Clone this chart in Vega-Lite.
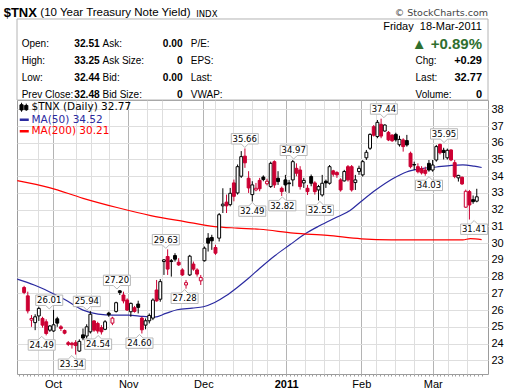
{
"$schema": "https://vega.github.io/schema/vega-lite/v6.json",
"background": "white",
"autosize": {"type": "none"},
"padding": {"left": 17, "top": 100, "right": 32, "bottom": 17},
"width": 471, "height": 274,
"config": {"view": {"stroke": "#9c9c9c"}, "font": "Liberation Sans"},
"resolve": {"scale": {"x": "independent", "y": "independent"}},
"datasets": {
"panel": [{"part": "quote box"}],
"info": [
{"r":"d","g":"g6","t":"Friday\u00a0 18-Mar-2011","k":"date"},
{"r":"d","g":"g1","t":"$TNX","k":"t1"},
{"r":"d","g":"g1","t":"(10 Year Treasury Note Yield)","k":"t2"},
{"r":"d","g":"g3","t":"INDX","k":"t3"},
{"r":"d","g":"g6","t":"© StockCharts.com","k":"t4"},
{"r":"1","g":"g1","t":"Open:","k":"lab"},{"r":"1","g":"g1","t":"32.51","k":"val"},
{"r":"1","g":"g2","t":"Ask:","k":"lab2"},{"r":"1","g":"g2","t":"0.00","k":"val2"},
{"r":"1","g":"g3","t":"P/E:","k":"lab3"},
{"r":"1","g":"g6","t":"▲ +0.89%","k":"big"},
{"r":"2","g":"g1","t":"High:","k":"lab"},{"r":"2","g":"g1","t":"33.25","k":"val"},
{"r":"2","g":"g2","t":"Ask Size:","k":"lab2"},{"r":"2","g":"g2","t":"0","k":"val2"},
{"r":"2","g":"g3","t":"EPS:","k":"lab3"},
{"r":"2","g":"g6","t":"Chg:","k":"lab"},{"r":"2","g":"g6","t":"+0.29","k":"rval"},
{"r":"3","g":"g1","t":"Low:","k":"lab"},{"r":"3","g":"g1","t":"32.44","k":"val"},
{"r":"3","g":"g2","t":"Bid:","k":"lab2"},{"r":"3","g":"g2","t":"0.00","k":"val2"},
{"r":"3","g":"g3","t":"Last:","k":"lab3"},
{"r":"3","g":"g6","t":"Last:","k":"lab"},{"r":"3","g":"g6","t":"32.77","k":"rval"},
{"r":"4","g":"g1","t":"Prev Close:","k":"lab"},{"r":"4","g":"g1","t":"32.48","k":"val"},
{"r":"4","g":"g2","t":"Bid Size:","k":"lab2"},{"r":"4","g":"g2","t":"0","k":"val2"},
{"r":"4","g":"g3","t":"VWAP:","k":"lab3"},
{"r":"4","g":"g6","t":"Volume:","k":"lab"},{"r":"4","g":"g6","t":"0","k":"rval"}
],
"candles": [
{"i":0,"o":27.35,"h":27.45,"l":26.95,"c":27.05},
{"i":1,"o":26.85,"h":27.1,"l":25.8,"c":25.95},
{"i":2,"o":25.4,"h":25.7,"l":25.0,"c":25.5},
{"i":3,"o":25.25,"h":25.75,"l":24.8,"c":25.6},
{"i":4,"o":25.65,"h":26.2,"l":25.35,"c":26.1},
{"i":5,"o":25.5,"h":25.6,"l":24.95,"c":25.1},
{"i":6,"o":25.3,"h":25.45,"l":24.49,"c":24.6},
{"i":7,"o":24.8,"h":25.1,"l":24.7,"c":25.05},
{"i":8,"o":24.75,"h":26.01,"l":24.7,"c":25.12},
{"i":9,"o":25.48,"h":25.6,"l":25.0,"c":25.22},
{"i":10,"o":25.0,"h":25.1,"l":24.75,"c":24.9},
{"i":11,"o":24.78,"h":24.84,"l":24.55,"c":24.62},
{"i":12,"o":24.05,"h":24.15,"l":23.85,"c":23.95},
{"i":13,"o":24.02,"h":24.1,"l":23.7,"c":23.93},
{"i":14,"o":24.05,"h":24.2,"l":23.34,"c":23.88},
{"i":15,"o":23.55,"h":24.25,"l":23.5,"c":24.13},
{"i":16,"o":24.52,"h":24.9,"l":24.2,"c":24.33},
{"i":17,"o":24.45,"h":25.15,"l":24.3,"c":25.0},
{"i":18,"o":24.7,"h":25.94,"l":24.6,"c":25.75},
{"i":19,"o":25.35,"h":25.4,"l":24.7,"c":24.8},
{"i":20,"o":25.2,"h":25.3,"l":24.6,"c":24.75},
{"i":21,"o":24.95,"h":25.1,"l":24.54,"c":24.7},
{"i":22,"o":24.85,"h":25.4,"l":24.8,"c":25.3},
{"i":23,"o":25.82,"h":25.9,"l":25.6,"c":25.72},
{"i":24,"o":25.22,"h":25.6,"l":25.1,"c":25.52},
{"i":25,"o":25.92,"h":26.5,"l":25.85,"c":26.44},
{"i":26,"o":27.15,"h":27.2,"l":26.9,"c":27.05},
{"i":27,"o":26.9,"h":27.1,"l":26.4,"c":26.55},
{"i":28,"o":26.6,"h":26.7,"l":25.95,"c":26.0},
{"i":29,"o":25.9,"h":26.45,"l":25.6,"c":26.4},
{"i":30,"o":26.14,"h":26.25,"l":25.85,"c":25.92},
{"i":31,"o":26.36,"h":26.56,"l":25.8,"c":26.16},
{"i":32,"o":25.52,"h":25.6,"l":24.6,"c":24.82},
{"i":33,"o":25.1,"h":25.5,"l":24.85,"c":25.36},
{"i":34,"o":25.36,"h":25.8,"l":25.2,"c":25.68},
{"i":35,"o":25.52,"h":26.7,"l":25.4,"c":26.6},
{"i":36,"o":27.2,"h":27.8,"l":26.5,"c":26.55},
{"i":37,"o":26.65,"h":27.85,"l":26.5,"c":27.7},
{"i":38,"o":28.9,"h":29.05,"l":28.1,"c":29.0},
{"i":39,"o":29.2,"h":29.63,"l":28.1,"c":28.45},
{"i":40,"o":28.95,"h":29.05,"l":28.0,"c":28.9},
{"i":41,"o":29.26,"h":29.4,"l":28.9,"c":29.04},
{"i":42,"o":28.86,"h":29.1,"l":28.64,"c":28.7},
{"i":43,"o":28.4,"h":28.5,"l":28.04,"c":28.1},
{"i":44,"o":27.5,"h":27.8,"l":27.28,"c":27.64},
{"i":45,"o":28.1,"h":29.3,"l":28.04,"c":29.22},
{"i":46,"o":28.75,"h":28.9,"l":28.35,"c":28.45},
{"i":47,"o":28.4,"h":28.5,"l":28.0,"c":28.15},
{"i":48,"o":27.75,"h":28.1,"l":27.5,"c":27.95},
{"i":49,"o":28.95,"h":29.8,"l":28.9,"c":29.7},
{"i":50,"o":30.3,"h":30.6,"l":29.5,"c":30.0},
{"i":51,"o":30.34,"h":30.5,"l":29.6,"c":30.14},
{"i":52,"o":29.74,"h":29.9,"l":29.3,"c":29.4},
{"i":53,"o":30.3,"h":31.8,"l":30.1,"c":31.7},
{"i":54,"o":32.23,"h":33.28,"l":31.8,"c":32.33},
{"i":55,"o":32.45,"h":32.9,"l":31.8,"c":32.23},
{"i":56,"o":32.3,"h":33.3,"l":32.2,"c":32.98},
{"i":57,"o":33.6,"h":33.8,"l":32.5,"c":32.8},
{"i":58,"o":33.0,"h":34.7,"l":32.9,"c":34.57},
{"i":59,"o":34.0,"h":35.5,"l":33.9,"c":35.17},
{"i":60,"o":35.2,"h":35.66,"l":34.5,"c":34.8},
{"i":61,"o":33.88,"h":34.3,"l":33.0,"c":33.3},
{"i":62,"o":32.9,"h":33.7,"l":32.49,"c":33.48},
{"i":63,"o":33.18,"h":33.6,"l":33.1,"c":33.28},
{"i":64,"o":33.75,"h":33.9,"l":33.1,"c":33.25},
{"i":65,"o":33.95,"h":34.05,"l":33.7,"c":33.8},
{"i":66,"o":33.55,"h":33.85,"l":33.45,"c":33.7},
{"i":67,"o":33.38,"h":34.87,"l":33.3,"c":34.77},
{"i":68,"o":34.87,"h":34.95,"l":33.3,"c":33.48},
{"i":69,"o":33.88,"h":34.3,"l":33.48,"c":33.68},
{"i":70,"o":33.28,"h":33.38,"l":32.82,"c":33.08},
{"i":71,"o":33.78,"h":34.08,"l":33.08,"c":33.48},
{"i":72,"o":33.6,"h":33.78,"l":33.0,"c":33.55},
{"i":73,"o":33.78,"h":34.97,"l":33.4,"c":34.87},
{"i":74,"o":34.47,"h":34.77,"l":34.0,"c":34.18},
{"i":75,"o":34.37,"h":34.6,"l":33.2,"c":33.38},
{"i":76,"o":33.6,"h":33.9,"l":33.3,"c":33.75},
{"i":77,"o":33.28,"h":33.48,"l":32.88,"c":33.08},
{"i":78,"o":33.98,"h":34.1,"l":33.4,"c":33.58},
{"i":79,"o":33.6,"h":33.7,"l":32.9,"c":33.08},
{"i":80,"o":33.18,"h":33.48,"l":32.55,"c":33.38},
{"i":81,"o":32.88,"h":34.08,"l":32.78,"c":33.58},
{"i":82,"o":33.7,"h":33.8,"l":33.3,"c":33.6},
{"i":83,"o":33.58,"h":34.67,"l":33.5,"c":34.57},
{"i":84,"o":34.32,"h":34.38,"l":33.98,"c":34.12},
{"i":85,"o":34.22,"h":34.3,"l":33.9,"c":34.08},
{"i":86,"o":33.78,"h":33.88,"l":33.08,"c":33.18},
{"i":87,"o":33.72,"h":34.38,"l":33.68,"c":34.28},
{"i":88,"o":34.57,"h":34.67,"l":33.68,"c":33.78},
{"i":89,"o":34.57,"h":34.67,"l":33.08,"c":33.18},
{"i":90,"o":33.62,"h":34.08,"l":33.18,"c":33.78},
{"i":91,"o":34.28,"h":34.63,"l":34.08,"c":34.47},
{"i":92,"o":34.08,"h":34.97,"l":33.98,"c":34.87},
{"i":93,"o":35.1,"h":35.57,"l":34.97,"c":35.43},
{"i":94,"o":35.67,"h":36.56,"l":35.57,"c":36.5},
{"i":95,"o":36.96,"h":37.06,"l":36.37,"c":36.45},
{"i":96,"o":36.37,"h":37.36,"l":36.27,"c":37.22},
{"i":97,"o":37.1,"h":37.44,"l":36.27,"c":36.4},
{"i":98,"o":36.7,"h":37.1,"l":36.66,"c":37.06},
{"i":99,"o":36.62,"h":36.7,"l":36.1,"c":36.17},
{"i":100,"o":36.46,"h":36.5,"l":36.05,"c":36.12},
{"i":101,"o":36.5,"h":36.6,"l":36.07,"c":36.18},
{"i":102,"o":35.88,"h":36.42,"l":35.77,"c":36.2},
{"i":103,"o":36.17,"h":36.27,"l":35.47,"c":35.77},
{"i":104,"o":36.13,"h":36.47,"l":35.77,"c":35.87},
{"i":105,"o":35.37,"h":35.47,"l":34.47,"c":34.57},
{"i":106,"o":34.7,"h":34.87,"l":34.37,"c":34.67},
{"i":107,"o":34.57,"h":34.77,"l":34.17,"c":34.27},
{"i":108,"o":34.45,"h":34.6,"l":34.1,"c":34.2},
{"i":109,"o":34.37,"h":34.57,"l":34.03,"c":34.17},
{"i":110,"o":34.77,"h":34.97,"l":34.27,"c":34.37},
{"i":111,"o":34.37,"h":34.97,"l":34.27,"c":34.67},
{"i":112,"o":34.97,"h":35.87,"l":34.87,"c":35.77},
{"i":113,"o":35.9,"h":35.95,"l":35.3,"c":35.4},
{"i":114,"o":35.55,"h":35.7,"l":35.0,"c":35.42},
{"i":115,"o":35.1,"h":35.65,"l":35.0,"c":35.55},
{"i":116,"o":35.57,"h":35.6,"l":34.9,"c":34.97},
{"i":117,"o":34.81,"h":34.97,"l":33.88,"c":33.98},
{"i":118,"o":33.9,"h":34.08,"l":33.68,"c":34.05},
{"i":119,"o":33.94,"h":33.98,"l":33.48,"c":33.54},
{"i":120,"o":32.15,"h":33.2,"l":32.1,"c":33.1},
{"i":121,"o":33.08,"h":33.18,"l":31.41,"c":32.28},
{"i":122,"o":32.6,"h":32.85,"l":32.35,"c":32.48},
{"i":123,"o":32.51,"h":33.25,"l":32.44,"c":32.77}
],
"ma": [
{"s":"MA(50) 34.52","i":-0.5,"v":27.85},{"s":"MA(50) 34.52","i":4,"v":27.5},{"s":"MA(50) 34.52","i":8,"v":27.1},{"s":"MA(50) 34.52","i":12,"v":26.65},{"s":"MA(50) 34.52","i":17,"v":26.0},{"s":"MA(50) 34.52","i":21,"v":25.76},{"s":"MA(50) 34.52","i":25,"v":25.7},{"s":"MA(50) 34.52","i":29,"v":25.7},{"s":"MA(50) 34.52","i":33,"v":25.62},{"s":"MA(50) 34.52","i":36,"v":25.58},{"s":"MA(50) 34.52","i":39,"v":25.8},{"s":"MA(50) 34.52","i":42,"v":26.02},{"s":"MA(50) 34.52","i":46,"v":26.12},{"s":"MA(50) 34.52","i":49,"v":26.2},{"s":"MA(50) 34.52","i":52,"v":26.45},{"s":"MA(50) 34.52","i":55,"v":26.85},{"s":"MA(50) 34.52","i":58,"v":27.35},{"s":"MA(50) 34.52","i":61,"v":27.9},{"s":"MA(50) 34.52","i":64,"v":28.5},{"s":"MA(50) 34.52","i":68,"v":29.25},{"s":"MA(50) 34.52","i":72,"v":29.9},{"s":"MA(50) 34.52","i":76,"v":30.55},{"s":"MA(50) 34.52","i":80,"v":31.05},{"s":"MA(50) 34.52","i":84,"v":31.5},{"s":"MA(50) 34.52","i":88,"v":31.95},{"s":"MA(50) 34.52","i":91,"v":32.5},{"s":"MA(50) 34.52","i":95,"v":33.2},{"s":"MA(50) 34.52","i":99,"v":33.8},{"s":"MA(50) 34.52","i":103,"v":34.25},{"s":"MA(50) 34.52","i":107,"v":34.45},{"s":"MA(50) 34.52","i":111,"v":34.55},{"s":"MA(50) 34.52","i":115,"v":34.65},{"s":"MA(50) 34.52","i":118,"v":34.68},{"s":"MA(50) 34.52","i":121,"v":34.6},{"s":"MA(50) 34.52","i":123,"v":34.52},
{"s":"MA(200) 30.21","i":-0.5,"v":33.74},{"s":"MA(200) 30.21","i":8,"v":33.32},{"s":"MA(200) 30.21","i":17,"v":32.68},{"s":"MA(200) 30.21","i":26,"v":32.13},{"s":"MA(200) 30.21","i":35,"v":31.65},{"s":"MA(200) 30.21","i":44,"v":31.29},{"s":"MA(200) 30.21","i":52,"v":30.99},{"s":"MA(200) 30.21","i":58,"v":30.9},{"s":"MA(200) 30.21","i":64,"v":30.83},{"s":"MA(200) 30.21","i":73,"v":30.6},{"s":"MA(200) 30.21","i":82,"v":30.46},{"s":"MA(200) 30.21","i":91,"v":30.26},{"s":"MA(200) 30.21","i":99,"v":30.2},{"s":"MA(200) 30.21","i":108,"v":30.2},{"s":"MA(200) 30.21","i":118,"v":30.2},{"s":"MA(200) 30.21","i":120,"v":30.27},{"s":"MA(200) 30.21","i":123,"v":30.21}
],
"notes": [
{"i":8,"v":26.01,"p":"top"},{"i":18,"v":25.94,"p":"top"},{"i":26,"v":27.20,"p":"top"},{"i":39,"v":29.63,"p":"top"},{"i":60,"v":35.66,"p":"top"},{"i":73,"v":34.97,"p":"top"},{"i":97,"v":37.44,"p":"top"},{"i":113,"v":35.95,"p":"top"},
{"i":6,"v":24.49,"p":"bottom"},{"i":14,"v":23.34,"p":"bottom"},{"i":21,"v":24.54,"p":"bottom"},{"i":32,"v":24.60,"p":"bottom"},{"i":44,"v":27.28,"p":"bottom"},{"i":62,"v":32.49,"p":"bottom"},{"i":70,"v":32.82,"p":"bottom"},{"i":80,"v":32.55,"p":"bottom"},{"i":109,"v":34.03,"p":"bottom"},{"i":121,"v":31.41,"p":"bottom"}
]
},
"layer": [
{
 "data": {"name": "panel"},
 "mark": {"type": "rect", "fill": "transparent", "stroke": "#b4b4b4", "strokeWidth": 1},
 "encoding": {
  "x": {"datum": -0.574, "type": "quantitative", "scale": {"domain": [-0.574, 124.69], "nice": false, "zero": false}, "axis": null},
  "x2": {"datum": 124.69},
  "y": {"datum": 38.555, "type": "quantitative", "scale": {"domain": [22.18, 38.555], "nice": false, "zero": false}, "axis": null},
  "y2": {"datum": 43.396}
 }
},
{
"data": {"name": "info"},
"encoding": {
 "y": {"field": "r", "type": "nominal", "scale": {"type": "point", "domain": ["d","1","2","3","4"], "range": [-72.7, -5], "padding": 0}, "axis": null},
 "text": {"field": "t"}
},
"layer": [
{"transform": [{"filter": "datum.k == 'lab'"}], "mark": {"type": "text", "align": "left", "baseline": "middle", "font": "Liberation Sans", "fontSize": 10, "color": "#000"},
 "encoding": {"x": {"field": "g", "type": "nominal", "bandPosition": 0, "scale": {"type": "band", "domain": ["g1","g2","g3","g4","g5","g6"], "range": [4.7, 476.6], "paddingInner": 0.0085, "paddingOuter": 0}, "axis": null}}},
{"transform": [{"filter": "datum.k == 'lab2'"}], "mark": {"type": "text", "align": "left", "baseline": "middle", "font": "Liberation Sans", "fontSize": 10, "color": "#000", "dx": 2},
 "encoding": {"x": {"field": "g", "type": "nominal", "bandPosition": 0, "scale": {"type": "band", "domain": ["g1","g2","g3","g4","g5","g6"], "range": [4.7, 476.6], "paddingInner": 0.0085, "paddingOuter": 0}, "axis": null}}},
{"transform": [{"filter": "datum.k == 'lab3'"}], "mark": {"type": "text", "align": "left", "baseline": "middle", "font": "Liberation Sans", "fontSize": 10, "color": "#000", "dx": 11.5},
 "encoding": {"x": {"field": "g", "type": "nominal", "bandPosition": 0, "scale": {"type": "band", "domain": ["g1","g2","g3","g4","g5","g6"], "range": [4.7, 476.6], "paddingInner": 0.0085, "paddingOuter": 0}, "axis": null}}},
{"transform": [{"filter": "datum.k == 'val'"}], "mark": {"type": "text", "align": "right", "baseline": "middle", "font": "Liberation Sans", "fontSize": 10.2, "fontWeight": "bold", "color": "#000"},
 "encoding": {"x": {"field": "g", "type": "nominal", "bandPosition": 1, "scale": {"type": "band", "domain": ["g1","g2","g3","g4","g5","g6"], "range": [4.7, 476.6], "paddingInner": 0.0085, "paddingOuter": 0}, "axis": null}}},
{"transform": [{"filter": "datum.k == 'val2'"}], "mark": {"type": "text", "align": "right", "baseline": "middle", "font": "Liberation Sans", "fontSize": 10.2, "fontWeight": "bold", "color": "#000", "dx": 4},
 "encoding": {"x": {"field": "g", "type": "nominal", "bandPosition": 1, "scale": {"type": "band", "domain": ["g1","g2","g3","g4","g5","g6"], "range": [4.7, 476.6], "paddingInner": 0.0085, "paddingOuter": 0}, "axis": null}}},
{"transform": [{"filter": "datum.k == 'rval'"}], "mark": {"type": "text", "align": "right", "baseline": "middle", "font": "Liberation Sans", "fontSize": 11, "fontWeight": "bold", "color": "#000", "dx": -11.6},
 "encoding": {"x": {"field": "g", "type": "nominal", "bandPosition": 1, "scale": {"type": "band", "domain": ["g1","g2","g3","g4","g5","g6"], "range": [4.7, 476.6], "paddingInner": 0.0085, "paddingOuter": 0}, "axis": null}}},
{"transform": [{"filter": "datum.k == 'big'"}], "mark": {"type": "text", "align": "right", "baseline": "middle", "font": "Liberation Sans", "fontSize": 15, "fontWeight": "bold", "color": "#2f6f2f", "dx": -11.6},
 "encoding": {"x": {"field": "g", "type": "nominal", "bandPosition": 1, "scale": {"type": "band", "domain": ["g1","g2","g3","g4","g5","g6"], "range": [4.7, 476.6], "paddingInner": 0.0085, "paddingOuter": 0}, "axis": null}}},
{"transform": [{"filter": "datum.k == 'date'"}], "mark": {"type": "text", "align": "right", "baseline": "middle", "font": "Liberation Sans", "fontSize": 11, "color": "#000", "dx": -11.6},
 "encoding": {"x": {"field": "g", "type": "nominal", "bandPosition": 1, "scale": {"type": "band", "domain": ["g1","g2","g3","g4","g5","g6"], "range": [4.7, 476.6], "paddingInner": 0.0085, "paddingOuter": 0}, "axis": null}}},
{"transform": [{"filter": "datum.k == 't1'"}], "mark": {"type": "text", "align": "left", "baseline": "middle", "font": "Liberation Sans", "fontSize": 13, "fontWeight": "bold", "color": "#000", "dx": -18, "dy": -14.6},
 "encoding": {"x": {"field": "g", "type": "nominal", "bandPosition": 0, "scale": {"type": "band", "domain": ["g1","g2","g3","g4","g5","g6"], "range": [4.7, 476.6], "paddingInner": 0.0085, "paddingOuter": 0}, "axis": null}}},
{"transform": [{"filter": "datum.k == 't2'"}], "mark": {"type": "text", "align": "left", "baseline": "middle", "font": "Liberation Sans", "fontSize": 11.5, "color": "#000", "dx": 18.6, "dy": -14.2},
 "encoding": {"x": {"field": "g", "type": "nominal", "bandPosition": 0, "scale": {"type": "band", "domain": ["g1","g2","g3","g4","g5","g6"], "range": [4.7, 476.6], "paddingInner": 0.0085, "paddingOuter": 0}, "axis": null}}},
{"transform": [{"filter": "datum.k == 't3'"}], "mark": {"type": "text", "align": "left", "baseline": "middle", "font": "DejaVu Sans", "fontSize": 8.5, "color": "#000", "dx": 17, "dy": -13.8},
 "encoding": {"x": {"field": "g", "type": "nominal", "bandPosition": 0, "scale": {"type": "band", "domain": ["g1","g2","g3","g4","g5","g6"], "range": [4.7, 476.6], "paddingInner": 0.0085, "paddingOuter": 0}, "axis": null}}},
{"transform": [{"filter": "datum.k == 't4'"}], "mark": {"type": "text", "align": "right", "baseline": "middle", "font": "DejaVu Sans", "fontSize": 9.5, "color": "#444", "dx": -5.6, "dy": -14.6},
 "encoding": {"x": {"field": "g", "type": "nominal", "bandPosition": 1, "scale": {"type": "band", "domain": ["g1","g2","g3","g4","g5","g6"], "range": [4.7, 476.6], "paddingInner": 0.0085, "paddingOuter": 0}, "axis": null}}}
]
},
{
 "data": {"name": "ma"},
 "mark": {"type": "line", "strokeWidth": 1.2, "interpolate": "monotone", "clip": true},
 "encoding": {
  "x": {"field": "i", "type": "quantitative", "scale": {"domain": [-0.574, 124.69], "nice": false, "zero": false},
   "axis": {"orient": "bottom", "title": null, "domain": false,
    "values": [0,1,2,3,4,5,6,7,8,9,10,11,12,13,14,15,16,17,18,19,20,21,22,23,24,25,26,27,28,29,30,31,32,33,34,35,36,37,38,39,40,41,42,43,44,45,46,47,48,49,50,51,52,53,54,55,56,57,58,59,60,61,62,63,64,65,66,67,68,69,70,71,72,73,74,75,76,77,78,79,80,81,82,83,84,85,86,87,88,89,90,91,92,93,94,95,96,97,98,99,100,101,102,103,104,105,106,107,108,109,110,111,112,113,114,115,116,117,118,119,120,121,122,123],
    "grid": true,
    "gridColor": {"condition": {"test": "indexof([9,29,49,71,91,110], datum.value) >= 0", "value": "#b4b4b4"}, "value": "#dedede"},
    "gridOpacity": {"condition": {"test": "indexof([5,9,15,19,24,29,34,38,43,49,52,57,62,66,71,76,81,85,91,95,100,105,110,114,119], datum.value) >= 0", "value": 1}, "value": 0},
    "ticks": true, "tickSize": 2, "tickColor": "#a0a0a0",
    "labelExpr": "datum.value == 9 ? 'Oct' : datum.value == 29 ? 'Nov' : datum.value == 49 ? 'Dec' : datum.value == 71 ? '2011' : datum.value == 91 ? 'Feb' : datum.value == 110 ? 'Mar' : ''",
    "labelOverlap": false, "labelFlush": false,
    "labelFont": "Liberation Sans", "labelFontSize": 11, "labelColor": "#000",
    "labelFontWeight": {"condition": {"test": "datum.value == 71", "value": "bold"}, "value": "normal"},
    "labelPadding": 2.5}},
  "y": {"field": "v", "type": "quantitative", "scale": {"domain": [22.18, 38.555], "nice": false, "zero": false},
   "axis": {"orient": "right", "title": null, "domain": false, "ticks": false,
    "values": [23,24,25,26,27,28,29,30,31,32,33,34,35,36,37,38],
    "grid": true, "gridColor": "#dedede",
    "labelFont": "Liberation Sans", "labelFontSize": 11, "labelColor": "#000", "labelPadding": 3, "labelFlush": false}},
  "color": {"field": "s", "type": "nominal",
   "scale": {"domain": ["$TNX (Daily) 32.77", "MA(50) 34.52", "MA(200) 30.21"], "range": ["#000000", "#2a2aa0", "#ff0000"]},
   "legend": {"orient": "top-left", "offset": 2, "title": null, "padding": 0, "rowPadding": 0.5,
    "symbolType": "stroke", "symbolSize": 81, "symbolStrokeWidth": 2.5,
    "labelFont": "DejaVu Sans", "labelFontSize": 10.5, "labelOffset": 2, "labelLimit": 300,
    "encode": {
     "labels": {"update": {"fill": {"signal": "datum.value === 'MA(50) 34.52' ? '#2a2aa0' : datum.value === 'MA(200) 30.21' ? '#ff0000' : '#000000'"}}},
     "symbols": {"update": {
       "shape": {"signal": "datum.value === '$TNX (Daily) 32.77' ? 'M-0.6,-1V1M-0.95,-0.55H-0.25V0.6H-0.95ZM0.45,-0.8V0.8M0.1,-0.4H0.8V0.55H0.1Z' : 'stroke'"},
       "fill": {"signal": "datum.value === '$TNX (Daily) 32.77' ? '#000000' : 'transparent'"},
       "strokeWidth": {"signal": "datum.value === '$TNX (Daily) 32.77' ? 1 : 2.5"}}}
    }}
  }
 }
},
{
 "data": {"name": "candles"},
 "transform": [{"window": [{"op": "lag", "field": "c", "as": "pc"}], "sort": [{"field": "i", "order": "ascending"}]}],
 "layer": [
  {"mark": {"type": "rule", "strokeWidth": 1},
   "encoding": {
    "x": {"field": "i", "type": "quantitative", "scale": {"domain": [-0.574, 124.69], "nice": false, "zero": false}, "axis": null},
    "y": {"field": "l", "type": "quantitative", "scale": {"domain": [22.18, 38.555], "nice": false, "zero": false}, "axis": null},
    "y2": {"field": "h"},
    "stroke": {"condition": {"test": "datum.pc != null && datum.c >= datum.pc", "value": "#000000"}, "value": "#cc0033"}
   }},
  {"mark": {"type": "bar", "width": 2.9, "strokeWidth": 1},
   "encoding": {
    "x": {"field": "i", "type": "quantitative", "scale": {"domain": [-0.574, 124.69], "nice": false, "zero": false}, "axis": null},
    "y": {"field": "o", "type": "quantitative", "scale": {"domain": [22.18, 38.555], "nice": false, "zero": false}, "axis": null},
    "y2": {"field": "c"},
    "fill": {"condition": [{"test": "datum.c > datum.o", "value": "#ffffff"}, {"test": "datum.pc != null && datum.c >= datum.pc", "value": "#000000"}], "value": "#cc0033"},
    "stroke": {"condition": {"test": "datum.pc != null && datum.c >= datum.pc", "value": "#000000"}, "value": "#cc0033"}
   }}
 ]
},
{
 "data": {"name": "notes"},
 "encoding": {
  "x": {"field": "i", "type": "quantitative", "scale": {"domain": [-0.574, 124.69], "nice": false, "zero": false}, "axis": null},
  "y": {"field": "v", "type": "quantitative", "scale": {"domain": [22.18, 38.555], "nice": false, "zero": false}, "axis": null}
 },
 "layer": [
  {"transform": [{"filter": "datum.p == 'top'"}],
   "mark": {"type": "point", "shape": "M0,-0.07L0.26,-0.33L1,-0.33L1,-1.1L-1,-1.1L-1,-0.33L-0.26,-0.33Z", "size": 729, "filled": true, "fill": "#ffffff", "stroke": "#b8b8b8", "strokeWidth": 1, "opacity": 1}},
  {"transform": [{"filter": "datum.p == 'bottom'"}],
   "mark": {"type": "point", "shape": "M0,0.07L0.26,0.33L1,0.33L1,1.1L-1,1.1L-1,0.33L-0.26,0.33Z", "size": 729, "filled": true, "fill": "#ffffff", "stroke": "#b8b8b8", "strokeWidth": 1, "opacity": 1}},
  {"transform": [{"filter": "datum.p == 'top'"}],
   "mark": {"type": "text", "dy": -9.7, "baseline": "middle", "align": "center", "font": "DejaVu Sans", "fontSize": 8.5, "color": "#000000"},
   "encoding": {"text": {"field": "v", "type": "quantitative", "format": ".2f"}}},
  {"transform": [{"filter": "datum.p == 'bottom'"}],
   "mark": {"type": "text", "dy": 9.7, "baseline": "middle", "align": "center", "font": "DejaVu Sans", "fontSize": 8.5, "color": "#000000"},
   "encoding": {"text": {"field": "v", "type": "quantitative", "format": ".2f"}}}
 ]
}
]
}
